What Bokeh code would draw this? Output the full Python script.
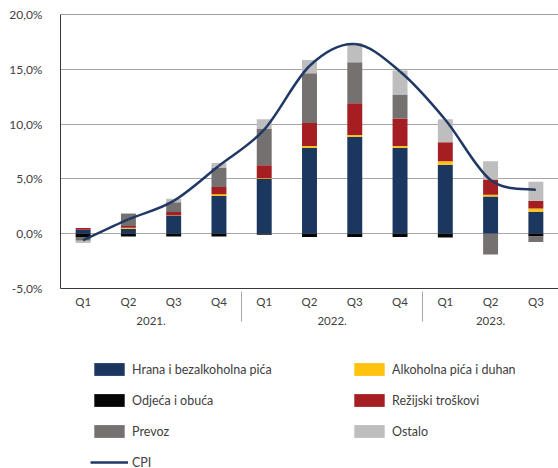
import numpy as np
from bokeh.plotting import figure
from bokeh.models import (Range1d, FactorRange, SingleIntervalTicker, ColumnDataSource,
                          CustomJSTickFormatter, Span, Legend, LegendItem)
from bokeh.layouts import column
from bokeh.embed import file_html
from bokeh.resources import INLINE

# ---- data (percentage-point contributions / CPI y/y, %) ----
quarters = ["Q1", "Q2", "Q3", "Q4", "Q1", "Q2", "Q3", "Q4", "Q1", "Q2", "Q3"]
years = ["2021.", "2021.", "2021.", "2021.", "2022.", "2022.", "2022.", "2022.", "2023.", "2023.", "2023."]

hrana = [0.35, 0.45, 1.65, 3.45, 5.0, 7.85, 8.85, 7.85, 6.3, 3.4, 2.0]
alkohol = [0.02, 0.1, 0.03, 0.15, 0.05, 0.15, 0.15, 0.15, 0.3, 0.15, 0.3]
odjeca = [-0.3, -0.25, -0.25, -0.25, -0.1, -0.3, -0.3, -0.3, -0.35, 0.0, -0.25]
rezijski = [0.15, 0.15, 0.3, 0.65, 1.2, 2.1, 2.9, 2.5, 1.75, 1.4, 0.7]
prevoz = [-0.35, 1.1, 0.9, 1.8, 3.35, 4.55, 3.75, 2.2, 0.0, -1.9, -0.5]
ostalo = [-0.2, 0.1, 0.3, 0.4, 0.85, 1.2, 1.75, 2.2, 2.1, 1.65, 1.75]
cpi = [-0.6, 1.3, 3.0, 6.2, 9.5, 15.3, 17.3, 14.8, 10.4, 4.9, 4.0]

series_names = ["Hrana i bezalkoholna pića", "Alkoholna pića i duhan", "Odjeća i obuća",
                "Režijski troškovi", "Prevoz", "Ostalo"]
series_values = [hrana, alkohol, odjeca, rezijski, prevoz, ostalo]
colors = ["#1B365F", "#FFC20E", "#050505", "#A41E22", "#767171", "#BEBEBE"]
cpi_color = "#1F3864"

FONT = "Lato"
TXT = "#404040"
AX = "#3A3A3A"
GRID = "#A6A6A6"

n = len(quarters)
factors = list(zip(years, quarters))

p = figure(width=558, height=340,
           x_range=FactorRange(factors=factors, group_padding=0, factor_padding=0, range_padding=0),
           y_range=Range1d(-5, 20),
           output_backend="svg", toolbar_location=None,
           min_border_left=60, min_border_right=0, min_border_top=14, min_border_bottom=52,
           outline_line_color=None)

# y axis
ticker = SingleIntervalTicker(interval=5, num_minor_ticks=0)
p.yaxis.ticker = ticker
p.ygrid.ticker = ticker
p.yaxis.formatter = CustomJSTickFormatter(code="return tick.toFixed(1).replace('.', ',') + '%';")
p.yaxis.major_tick_line_color = None
p.yaxis.minor_tick_line_color = None
p.yaxis.major_tick_out = 0
p.yaxis.major_tick_in = 0
p.yaxis.major_label_standoff = 18
p.yaxis.axis_line_color = AX
p.yaxis.major_label_text_font = FONT
p.yaxis.major_label_text_font_size = "12px"
p.yaxis.major_label_text_color = TXT
p.ygrid.grid_line_color = GRID
p.ygrid.grid_line_width = 1
p.xgrid.visible = False

p.add_layout(Span(location=20, dimension="width", line_color=AX, line_width=1))

# categorical x axis
xa = p.xaxis[0]
xa.axis_line_color = AX
xa.major_tick_line_color = None
xa.minor_tick_line_color = None
xa.major_tick_out = 0
xa.major_tick_in = 0
xa.major_label_standoff = 6
xa.major_label_text_font = FONT
xa.major_label_text_font_size = "11.5px"
xa.major_label_text_color = TXT
xa.group_text_font = FONT
xa.group_text_font_size = "11.5px"
xa.group_text_font_style = "normal"
xa.group_text_color = TXT
xa.separator_line_color = GRID
xa.separator_line_width = 1

# stacked bars (positives up, negatives down)
pos_base = np.zeros(n)
neg_base = np.zeros(n)
for vals, col in zip(series_values, colors):
    v = np.array(vals, dtype=float)
    bottom = np.where(v >= 0, pos_base, neg_base)
    top = bottom + v
    pos_base = np.where(v >= 0, top, pos_base)
    neg_base = np.where(v < 0, top, neg_base)
    src = ColumnDataSource(dict(x=factors, bottom=bottom, top=top))
    p.vbar(x="x", bottom="bottom", top="top", width=0.33, fill_color=col, line_color=None, source=src)

# smoothed CPI line (Bezier segments from the data points, synthetic category coordinates)
y = np.array(cpi, dtype=float)
x = np.arange(n) + 0.5
i0 = np.arange(n - 1)
pm = np.clip(i0 - 1, 0, n - 1)
pp = np.clip(i0 + 2, 0, n - 1)
cx0 = x[i0] + (x[i0 + 1] - x[pm]) / 6.0
cy0 = y[i0] + (y[i0 + 1] - y[pm]) / 6.0
cx1 = x[i0 + 1] - (x[pp] - x[i0]) / 6.0
cy1 = y[i0 + 1] - (y[pp] - y[i0]) / 6.0
p.bezier(x0=x[:-1], y0=y[:-1], x1=x[1:], y1=y[1:], cx0=cx0, cy0=cy0, cx1=cx1, cy1=cy1,
         line_color=cpi_color, line_width=2.5)

# ---- legend figure (proxy glyphs sit outside its visible range) ----
q = figure(width=558, height=128, x_range=Range1d(0, 1), y_range=Range1d(0, 1),
           x_axis_location=None, y_axis_location=None, output_backend="svg",
           toolbar_location=None, min_border=0, outline_line_color=None)
q.xgrid.visible = False
q.ygrid.visible = False

rend = {}
for name, col in zip(series_names, colors):
    rend[name] = q.vbar(x=[-5], top=[-5], bottom=[-6], width=0.5, fill_color=col, line_color=None)
cpi_r = q.line(x=[-5, -4], y=[-5, -5], line_color=cpi_color, line_width=2.5)


def make_legend(items, loc):
    lg = Legend(items=items, location=loc, glyph_width=38, glyph_height=16, label_height=16,
                label_width=20, spacing=15, padding=0, margin=0, label_standoff=4,
                border_line_color=None, background_fill_alpha=0,
                label_text_font=FONT, label_text_font_size="12.5px", label_text_color=TXT)
    return lg


leg1 = make_legend([LegendItem(label=series_names[0], renderers=[rend[series_names[0]]]),
                    LegendItem(label=series_names[2], renderers=[rend[series_names[2]]]),
                    LegendItem(label=series_names[4], renderers=[rend[series_names[4]]]),
                    LegendItem(label="CPI", renderers=[cpi_r])], (30, -2))
leg2 = make_legend([LegendItem(label=series_names[1], renderers=[rend[series_names[1]]]),
                    LegendItem(label=series_names[3], renderers=[rend[series_names[3]]]),
                    LegendItem(label=series_names[5], renderers=[rend[series_names[5]]])], (290, 29))
q.add_layout(leg1)
q.add_layout(leg2)

layout = column(p, q, spacing=0)
open("out.html", "w").write(file_html(layout, INLINE))
